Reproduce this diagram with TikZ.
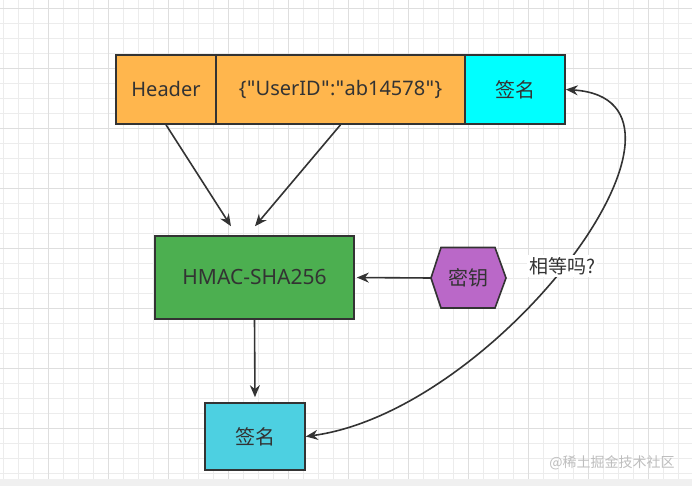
\documentclass[tikz,border=0pt]{standalone}
\usepackage{fontspec}
\setmainfont{Noto Sans}[Ligatures=NoCommon]
\newfontfamily\cjk{Noto Sans CJK SC}
\newfontfamily\qfont{DejaVu Sans}
\usetikzlibrary{arrows.meta,calc}
\newcommand{\dq}{{\qfont\char34}}
\definecolor{gridminor}{RGB}{236,236,236}
\definecolor{gridmajor}{RGB}{222,222,222}
\definecolor{lineclr}{RGB}{51,51,51}
\definecolor{txtclr}{RGB}{51,51,51}
\definecolor{orangefill}{RGB}{255,182,77}
\definecolor{cyanfill}{RGB}{0,255,255}
\definecolor{greenfill}{RGB}{76,175,80}
\definecolor{lightcyan}{RGB}{77,208,225}
\definecolor{purplefill}{RGB}{186,104,200}
\definecolor{bandgrey}{RGB}{240,240,240}
\definecolor{wmgrey}{RGB}{190,190,190}
\tikzset{
  boxstyle/.style={draw=lineclr, line width=1.6pt, rectangle, inner sep=0pt,
    text=txtclr, font=\fontsize{20}{24}\selectfont},
  conn/.style={draw=lineclr, line width=1.6pt, -{Stealth[length=12pt,width=10pt]}},
  minorline/.style={draw=gridminor, line width=0.8pt},
  majorline/.style={draw=gridmajor, line width=0.9pt},
}
\begin{document}
\begin{tikzpicture}[x=1pt,y=-1pt]
\useasboundingbox (0,0) rectangle (692,486);
\fill[white] (0,0) rectangle (692,486);
% grid
\foreach \gx in {3.5,18.5,...,692} \draw[minorline] (\gx,0) -- (\gx,479);
\foreach \gy in {8,23,...,479} \draw[minorline] (0,\gy) -- (692,\gy);
\foreach \gx in {48.5,108.5,...,692} \draw[majorline] (\gx,0) -- (\gx,479);
\foreach \gy in {8,68,...,479} \draw[majorline] (0,\gy) -- (692,\gy);
\fill[bandgrey] (0,479) rectangle (692,486);

% top row
\node[boxstyle, fill=orangefill, minimum width=100pt, minimum height=69pt] (header) at (166,89.5) {Header};
\node[boxstyle, fill=orangefill, minimum width=249pt, minimum height=69pt] (userid) at (340.5,89.5) {\{\dq UserID\dq:\dq ab14578\dq\}};
\node[boxstyle, fill=cyanfill, minimum width=100pt, minimum height=69pt] (sigtop) at (515,89.5) {\cjk 签名};

% HMAC
\node[boxstyle, fill=greenfill, minimum width=199pt, minimum height=83pt, font=\fontsize{21}{24}\selectfont] (hmac) at (254.5,277.5) {HMAC-SHA256};

% key hexagon
\draw[draw=lineclr, line width=1.6pt, fill=purplefill, line join=miter]
  (431,278) -- (441,247.5) -- (495,247.5) -- (506,278) -- (495,308) -- (441,308) -- cycle;
\node[text=txtclr, font=\fontsize{20}{24}\selectfont, minimum width=75pt, minimum height=60pt, inner sep=0pt] (key) at (468.5,278) {\cjk 密钥};

% bottom signature
\node[boxstyle, fill=lightcyan, minimum width=100pt, minimum height=67pt] (sigbot) at (255,436.5) {\cjk 签名};

% connectors
\coordinate (tipA) at ($(hmac.north)+(-23.5,-9)$);
\coordinate (tipB) at ($(hmac.north)+(0.5,-9)$);
\draw[conn] (header.south) -- (tipA);
\draw[conn] (userid.south) -- (tipB);
\draw[conn, shorten >=5pt] (hmac.south) -- (sigbot.north);
\draw[conn, shorten >=2pt] (key.west) -- (hmac.east);
\draw[draw=lineclr, line width=1.6pt, {Stealth[length=12pt,width=10pt]}-{Stealth[length=12pt,width=10pt]}]
  (sigbot.east) .. controls (500,410) and (730,100) .. (sigtop.east);
\node[fill=white, inner sep=2pt, text=txtclr, font=\fontsize{19}{22}\selectfont] (eqlabel) at (562,266) {\cjk 相等吗?};

% watermark
\node[text=wmgrey, font=\cjk\fontsize{14}{16}\selectfont, inner sep=0pt] (wm) at (612,463) {@稀土掘金技术社区};
\end{tikzpicture}
\end{document}
